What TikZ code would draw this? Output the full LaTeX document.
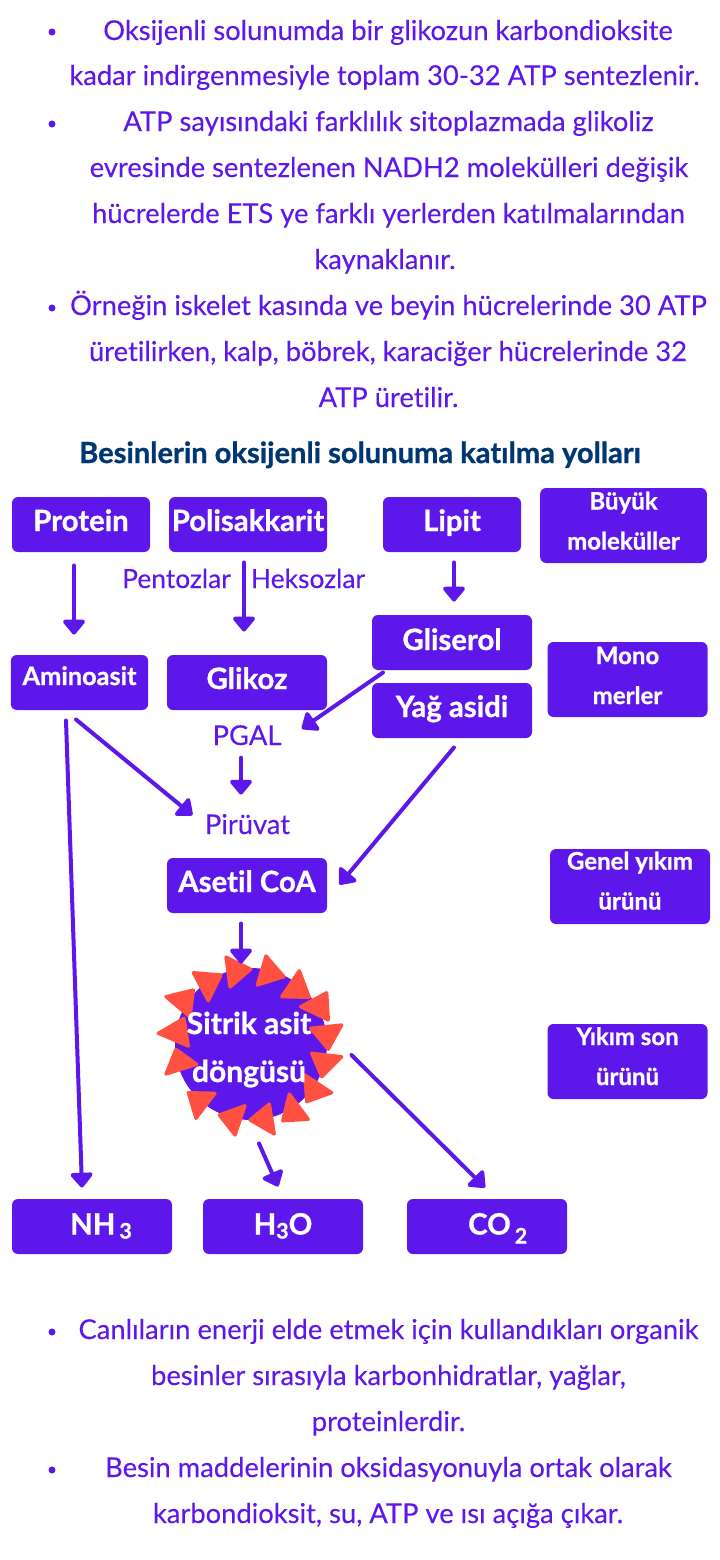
\documentclass[tikz,border=0pt]{standalone}
\usepackage{fontspec}
\setmainfont[Ligatures=NoCommon,FakeBold=0.15,BoldFeatures={FakeBold=0.9}]{Lato}
\usetikzlibrary{arrows.meta}
\definecolor{morumsu}{RGB}{94,23,235}
\definecolor{lacivert}{RGB}{0,55,115}
\definecolor{kirmizi}{RGB}{255,80,65}
\tikzset{every picture/.style={line width=0.75pt}}
\tikzset{
  yazi/.style={anchor=base,inner sep=0pt,text=morumsu,font=\fontsize{20.5}{24}\selectfont},
  etiket/.style={yazi,font=\fontsize{19.8}{24}\selectfont},
  kutu/.style={fill=morumsu,text=white,rounded corners=4.5pt,inner sep=0pt,align=center,
    font=\fontsize{22}{30}\selectfont\bfseries,minimum width=120pt,minimum height=41.25pt},
  kucukkutu/.style={kutu,font=\fontsize{18}{30}\selectfont\bfseries,minimum height=56.25pt},
  taban/.style={text height=#1,text depth=0pt},
  alt/.style={font=\fontsize{16}{18}\selectfont\bfseries},
  ok/.style={draw=morumsu,line width=3pt,line cap=round,-{Triangle[length=12pt,width=19pt,round]}},
  ucgen/.style={fill=kirmizi,draw=kirmizi,line width=2.5pt,line join=round},
}
\begin{document}
\begin{tikzpicture}[x=0.75pt,y=0.75pt,yscale=-1,xscale=1]
\useasboundingbox (0,0) rectangle (720,1560);

% Bullets
\foreach \by in {32,124,308,1332,1470}
  \fill [morumsu] (52,\by) circle (3.5);

% Upper text
\foreach \cx/\by/\metin [count=\n] in {
  388/40/{Oksijenli solunumda bir glikozun karbondioksite},
  384.5/85/{kadar indirgenmesiyle toplam 30-32 ATP sentezlenir.},
  388.5/131/{ATP sayısındaki farklılık sitoplazmada glikoliz},
  389/177/{evresinde sentezlenen NADH2 molekülleri değişik},
  388.5/223/{hücrelerde ETS ye farklı yerlerden katılmalarından},
  385/269/{kaynaklanır.},
  388.5/315/{Örneğin iskelet kasında ve beyin hücrelerinde 30 ATP},
  388/361/{üretilirken, kalp, böbrek, karaciğer hücrelerinde 32},
  388.5/407/{ATP üretilir.}}
  \node [yazi] (ust\n) at (\cx,\by) {\metin};

% Title
\node [yazi,text=lacivert,font=\fontsize{21.8}{26}\selectfont\bfseries] (baslik) at (360,463) {Besinlerin oksijenli solunuma katılma yolları};

% Lower text
\foreach \cx/\by/\metin [count=\n] in {
  388.5/1339/{Canlıların enerji elde etmek için kullandıkları organik},
  388.5/1385/{besinler sırasıyla karbonhidratlar, yağlar,},
  388.5/1431/{proteinlerdir.},
  388.5/1477/{Besin maddelerinin oksidasyonuyla ortak olarak},
  388/1523/{karbondioksit, su, ATP ve ısı açığa çıkar.}}
  \node [yazi] (alt\n) at (\cx,\by) {\metin};

% Boxes
\node [kutu,minimum width=103.5pt,taban=9.75pt] (protein) at (81,524.5) {Protein};
\node [kutu,taban=9.75pt,minimum width=118.5pt] (polisakkarit) at (248,524.5) {Polisakkarit};
\node [kutu,minimum width=103.5pt,taban=9.75pt] (lipit) at (452,524.5) {Lipit};
\node [kutu,minimum width=103pt,taban=3.75pt,font=\fontsize{19}{22}\selectfont\bfseries] (aminoasit) at (79.5,682.5) {Aminoasit};
\node [kutu,taban=9.75pt] (glikoz) at (247,682.5) {Glikoz};
\node [kutu,taban=11.25pt] (gliserol) at (452,642.5) {Gliserol};
\node [kutu,taban=9.75pt] (yagasidi) at (452,710.5) {Yağ asidi};
\node [kutu,taban=9.75pt] (asetil) at (247,885.5) {Asetil CoA};

% Side boxes
\node [kucukkutu,minimum width=125pt,taban=36pt] (buyuk) at (623.5,525.5) {Büyük\\moleküller};
\node [kucukkutu,taban=36.75pt] (mono) at (627.5,679.5) {Mono\\merler};
\node [kucukkutu,taban=34.5pt] (genel) at (630,886.5) {Genel yıkım\\ürünü};
\node [kucukkutu,taban=35.25pt] (yikim) at (627.5,1061.5) {Yıkım son\\ürünü};

% Cycle
\node [circle,fill=morumsu,inner sep=0pt,minimum size=114pt] (sitrik) at (251,1044) {};
\foreach \ax/\ay/\bx/\by/\cx/\cy in {
  226/957/250.7/969.3/230/987,
  266/956/284/976.7/257.3/985,
  299.3/970.7/309.3/997.3/281.7/996.7,
  326.7/992.7/328.3/1020/300.7/1006.7,
  341.7/1025/328.3/1049.3/310.7/1028.3,
  341.7/1056.7/321.7/1076.7/311.7/1053.3,
  331.7/1092.7/306.7/1101.7/305/1075,
  308.3/1119.3/282.7/1120.7/289.3/1094,
  274.3/1134/250/1120/269.3/1104,
  235/1135/219.3/1115/245/1105.7,
  196/1118.3/188.3/1092.7/215/1093.3,
  166/1074/176/1049.3/196.7/1064.3,
  158.3/1033.3/184/1018.3/188.3/1046,
  166/996.7/193.3/990/190/1017,
  193.3/972.7/221/975/208.3/1000.7}
  \fill [ucgen] (\ax,\ay) -- (\bx,\by) -- (\cx,\cy) -- cycle;
\node [text=white,inner sep=0pt,align=center,font=\fontsize{22.5}{36}\selectfont\bfseries,taban=57pt] (dongu) at (249,1044) {Sitrik asit\\döngüsü};

% Bottom boxes
\node [kutu,taban=12pt] (nh) at (92,1226.5) {\hspace{13.5pt}NH\hspace{3pt}\raisebox{-3pt}{\fontsize{16}{18}\selectfont 3}};
\node [kutu,taban=12pt] (hyo) at (283,1226.5) {H\raisebox{-3pt}{\fontsize{16}{18}\selectfont 3}O};
\node [kutu,taban=12pt] (co) at (487,1226.5) {\hspace{16pt}CO\hspace{3pt}\raisebox{-6.75pt}{\fontsize{16}{18}\selectfont 2}};

% Free labels
\node [etiket] (pentoz) at (176.5,588) {Pentozlar};
\node [etiket] (heksoz) at (308,588) {Heksozlar};
\node [yazi] (pgal) at (247,745) {PGAL};
\node [yazi] (piruvat) at (247.5,834) {Pirüvat};

% Arrows
\draw [ok] ([shift={(-7,13)}]protein.south) -- ([shift={(-5.5,-20)}]aminoasit.north);
\draw [ok] ([shift={(-4,10)}]polisakkarit.south) -- ([shift={(-3,-23)}]glikoz.north);
\draw [ok] ([shift={(2,10)}]lipit.south) -- ([shift={(2,-13)}]gliserol.north);
\draw [ok] ([shift={(-69,2)}]gliserol.south) -- ([shift={(20,4)}]pgal.north east);
\draw [ok] ([shift={(-6,12)}]pgal.south) -- ([shift={(-6.5,-19)}]piruvat.north);
\draw [ok] ([shift={(-13.5,10)}]aminoasit.south) -- ([shift={(-10,-11)}]nh.north);
\draw [ok] ([shift={(-3.5,9)}]aminoasit.south) -- ([shift={(-12,-9)}]piruvat.west);
\draw [ok] ([shift={(2,9)}]yagasidi.south) -- ([shift={(12,-1)}]asetil.east);
\draw [ok] ([shift={(-6,10)}]asetil.south) -- ([shift={(-10,-4)}]sitrik.north);
\draw [ok] ([shift={(8,23)}]sitrik.south) -- ([shift={(-5,-12)}]hyo.north);
\draw [ok] ([shift={(24,11)}]sitrik.east) -- ([shift={(-2,-11)}]co.north);
\end{tikzpicture}
\end{document}
